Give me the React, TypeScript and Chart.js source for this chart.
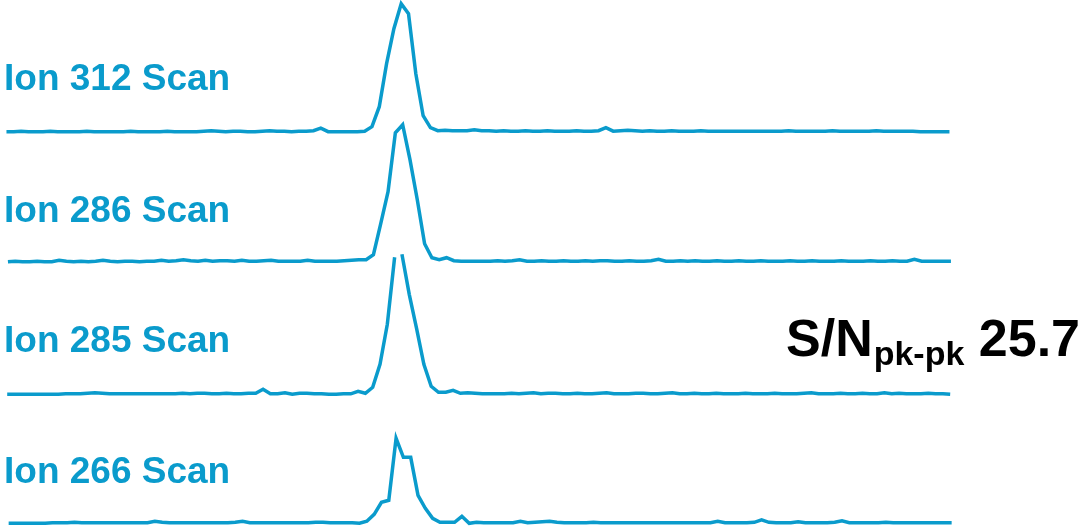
import React, { useEffect, useRef } from "react";
import { Chart, registerables } from "chart.js";

Chart.register(...registerables);

// Scan labels (top to bottom)
const traceLabels = ["Ion 312 Scan", "Ion 286 Scan", "Ion 285 Scan", "Ion 266 Scan"];

// Intensity values (relative counts) per scan index 0..129
const ion312 = [
  0, 0, 0.5, 0, 0, 0, 0.5, 0, 0, 0,
  0, 0.5, 0, 0, 0, 0, 0, 0.5, 0, 0,
  0, 0, 0.5, 0, 0, 0, 0, 0.5, 1, 0.5,
  0, 0.5, 0.5, 0, 0, 0.5, 1, 0.5, 0.5, 0,
  0.5, 0.5, 1, 3.5, 0, 0, 0, 0, 0, 0.5,
  5, 25, 68, 103, 128, 118, 58, 16, 4, 1,
  1.5, 1, 1, 1, 2, 1, 1, 0.5, 1, 0.5,
  0.5, 1, 0.5, 0.5, 1, 0.5, 0.5, 0.5, 1, 0.5,
  0.5, 1, 4, 0.5, 1, 1.5, 1, 0.5, 1, 0.5,
  0.5, 1, 0.5, 0.5, 0.5, 1, 0.5, 0.5, 0.5, 0.5,
  0.5, 0.5, 0.5, 0.5, 0.5, 0.5, 0.5, 1, 0.5, 0.5,
  0.5, 0.5, 0.5, 1, 0.5, 0.5, 0.5, 0.5, 0.5, 1,
  0.5, 0.5, 0.5, 0.5, 0.5, 0, 0, 0, 0, 0,
];

const ion286 = [
  0, 0.5, 0, 0, 0.5, 0, 0, 1.5, 0.5, 0,
  0.5, 0, 0.5, 1.5, 0.5, 0, 0.5, 0.5, 0, 0.5,
  0.5, 1.5, 0.5, 1, 2, 1, 0.5, 1.5, 0.5, 1,
  1, 0.5, 1.5, 0.5, 0.5, 1, 1.5, 0.5, 0.5, 0.5,
  0.5, 1.5, 0.5, 0.5, 0.5, 0.5, 1, 1.5, 2, 2,
  7, 38, 70, 129, 137, 102, 62, 18, 4, 2,
  4, 1, 0.5, 0.5, 0.5, 0.5, 0.5, 1, 0.5, 1,
  2, 0.5, 0.5, 1, 0.5, 0.5, 1, 0.5, 0.5, 1,
  0.5, 1, 1, 0.5, 0.5, 1, 0.5, 0.5, 1, 2.5,
  0.5, 0.5, 1, 0.5, 1, 0.5, 0.5, 1, 0.5, 0.5,
  1, 0.5, 0.5, 1, 0.5, 0.5, 0.5, 1, 0.5, 0.5,
  1, 0.5, 0.5, 0.5, 1, 0.5, 0.5, 0.5, 1, 0.5,
  0.5, 1, 0.5, 0.5, 2.5, 0.5, 0.5, 0.5, 0.5, 0.5,
];

const ion285 = [
  0, 0, 0, 0, 0, 0, 0, 0, 0.5, 0.5,
  0.5, 1, 1.5, 1, 0.5, 0.5, 0.5, 0.5, 0.5, 0.5,
  0.5, 0.5, 0.5, 0.5, 1, 0.5, 1, 1, 0.5, 0.5,
  1, 0.5, 0.5, 1, 1, 5, 0.5, 0.5, 1.5, 0,
  1, 1, 0.5, 0.5, 0, 0, 0.5, 0.5, 3, 1,
  7, 30, 70, 137, 140, 100, 66, 30, 8, 2,
  2, 4, 1, 1.5, 1, 0.5, 0.5, 0.5, 0.5, 1,
  0.5, 1, 1.5, 0.5, 1, 1, 0.5, 0.5, 1, 0.5,
  0.5, 1, 1.5, 0.5, 0.5, 0.5, 1, 1, 0.5, 0.5,
  1, 1.5, 0.5, 0.5, 1, 0.5, 0.5, 1, 0.5, 0.5,
  0.5, 1, 0.5, 0.5, 0.5, 1, 0.5, 0.5, 0.5, 1,
  1.5, 0.5, 0.5, 0.5, 1, 0.5, 0.5, 1, 0.5, 0.5,
  1.5, 0.5, 1, 0.5, 0.5, 0.5, 1, 0.5, 0.5, 0,
];

const ion266 = [
  0, 0, 0, 0, 0, 0, 0.5, 0.5, 0.5, 1,
  0.5, 0.5, 0.5, 0.5, 0.5, 0.5, 0.5, 0.5, 0.5, 0.5,
  2, 1, 0.5, 0.5, 0.5, 0.5, 0.5, 0.5, 0.5, 0.5,
  0.5, 1, 2, 0.5, 0.5, 0.5, 0.5, 0.5, 0.5, 0.5,
  0.5, 0.5, 1, 1, 0.5, 0.5, 0.5, 0.5, 0, 2,
  9, 21, 23, 85, 66, 66, 28, 15, 5, 1,
  1, 1, 7, 0, 1, 0.5, 0.5, 0.5, 0.5, 0.5,
  2, 0.5, 1, 1.5, 2, 1, 0.5, 0.5, 0.5, 0.5,
  1, 0.5, 0.5, 0.5, 0.5, 0.5, 0.5, 0.5, 0.5, 0.5,
  0.5, 0.5, 0.5, 0.5, 0.5, 0.5, 0.5, 2, 0.5, 0.5,
  0.5, 0.5, 1, 3.5, 1, 0.5, 0.5, 0.5, 1.5, 0.5,
  0.5, 0.5, 0.5, 1, 2.5, 0.5, 0.5, 0.5, 0.5, 0.5,
  1, 0.5, 0.5, 0.5, 0.5, 0.5, 0.5, 0.5, 0.5, 0.5,
];

// Per-trace scan start offset (scan units) and vertical stacking offset
const scanShift = [0.2, 0.4, 0.3, 0.5];
const stackOffset = [399.3, 269.3, 136.7, 7.7];

const snLabel = "S/N";
const snSub = "pk-pk";
const snValue = "25.7";

const BLUE = "#0a9bcc";

export default function App() {
  const ref = useRef<HTMLCanvasElement | null>(null);

  useEffect(() => {
    const canvas = ref.current;
    if (!canvas) return;
    const series = [ion312, ion286, ion285, ion266];

    const textPlugin = {
      id: "texts",
      afterDraw(chart: any) {
        const ctx = chart.ctx;
        ctx.save();
        ctx.fillStyle = BLUE;
        ctx.textBaseline = "alphabetic";
        ctx.textAlign = "left";
        ctx.font = "bold 37px 'Liberation Sans', Arial, sans-serif";
        const labelBase = [90, 222, 352, 483];
        traceLabels.forEach((t, k) => ctx.fillText(t, 4, labelBase[k]));

        ctx.fillStyle = "#000";
        let x = 786;
        const base = 356;
        ctx.font = "bold 52px 'Liberation Sans', Arial, sans-serif";
        ctx.fillText(snLabel, x, base);
        x += ctx.measureText(snLabel).width + 1;
        ctx.font = "bold 34px 'Liberation Sans', Arial, sans-serif";
        ctx.fillText(snSub, x, base + 9);
        x += ctx.measureText(snSub).width;
        ctx.font = "bold 52px 'Liberation Sans', Arial, sans-serif";
        ctx.fillText(" " + snValue, x, base);
        ctx.restore();
      },
    };

    const chart = new Chart(canvas, {
      type: "line",
      data: {
        datasets: series.map((arr, k) => ({
          label: traceLabels[k],
          data: arr.map((v, i) => ({ x: i + scanShift[k], y: v + stackOffset[k] })),
          borderColor: BLUE,
          borderWidth: 3.5,
          pointRadius: 0,
          tension: 0,
          fill: false,
          clip: false as any,
          segment: {
            borderColor: (c: any) =>
              k === 2 && c.p0DataIndex === 53 ? "rgba(0,0,0,0)" : undefined,
          },
        })),
      },
      options: {
        animation: false,
        responsive: false,
        devicePixelRatio: 1,
        layout: { padding: { left: 5, right: 137, top: 0, bottom: 0 } },
        plugins: { legend: { display: false }, tooltip: { enabled: false } },
        scales: {
          x: { type: "linear", min: 0, max: 129, display: false },
          y: { type: "linear", min: 0, max: 531, display: false },
        },
      },
      plugins: [textPlugin],
    });
    return () => chart.destroy();
  }, []);

  return (
    <div style={{ position: "fixed", left: 0, top: 0, width: 1085, height: 531, background: "#fff" }}>
      <canvas ref={ref} width={1085} height={531} style={{ display: "block" }} />
    </div>
  );
}
